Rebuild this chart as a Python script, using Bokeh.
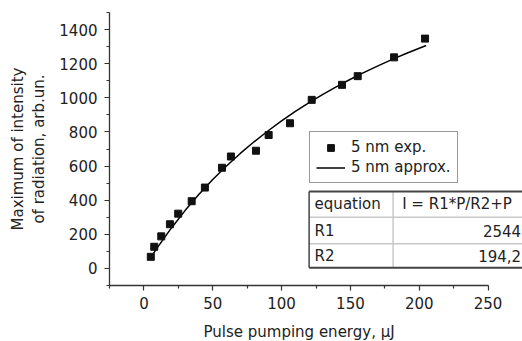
from bokeh.plotting import figure
from bokeh.models import (Range1d, FixedTicker, Legend, LegendItem, Title)
from bokeh.core.properties import value
from bokeh.embed import file_html
from bokeh.resources import INLINE

# ---- data ----
exp_energy = [5, 7.5, 12.6, 18.9, 24.9, 34.7, 44.3, 56.7, 63.2, 81.4,
              90.6, 106.1, 121.9, 143.9, 155.3, 181.7, 204.2]
exp_intensity = [68, 127, 188, 259, 321, 394, 474, 590, 656, 690,
                 782, 851, 988, 1076, 1127, 1237, 1347]

fit_energy = [7, 10, 20, 30, 40, 50, 60, 70, 80, 90, 100, 110, 120, 130,
              140, 150, 160, 170, 180, 190, 200, 205]
fit_intensity = [88.5, 124.6, 237.5, 340.4, 434.5, 520.9, 600.5, 674.0,
                 742.2, 805.6, 864.7, 919.9, 971.6, 1020.1, 1065.7, 1108.7,
                 1149.2, 1187.5, 1223.7, 1258.1, 1290.7, 1306.4]

x_ticks = [0, 50, 100, 150, 200, 250]
x_minor = [-25, 25, 75, 125, 175, 225]
y_ticks = [0, 200, 400, 600, 800, 1000, 1200, 1400]
y_minor = [-100, 100, 300, 500, 700, 900, 1100, 1300, 1500]

table_rows = ["equation", "R1", "R2"]
table_vals = ["I = R1*P/R2+P", "2544", "194,2"]

FONT = "DejaVu Sans"
TXT = "#222222"
AX = "#333333"

p = figure(width=522, height=341, output_backend="svg", toolbar_location=None,
           x_range=Range1d(-25, 275), y_range=Range1d(-100, 1500),
           min_border_left=109, min_border_right=0, min_border_top=12,
           min_border_bottom=56)
p.outline_line_color = None
p.xgrid.visible = False
p.ygrid.visible = False
p.background_fill_color = "white"
p.border_fill_color = "white"

for ax in (p.xaxis[0], p.yaxis[0]):
    ax.axis_line_color = AX
    ax.axis_line_width = 1.3
    ax.major_tick_line_color = AX
    ax.minor_tick_line_color = AX
    ax.major_tick_line_width = 1.2
    ax.minor_tick_line_width = 1.2
    ax.major_tick_out = 5
    ax.major_tick_in = 0
    ax.minor_tick_out = 3
    ax.minor_tick_in = 0
    ax.major_label_text_font = FONT
    ax.major_label_text_font_size = "15px"
    ax.major_label_text_color = TXT
    ax.axis_label_text_font = FONT
    ax.axis_label_text_font_size = "15px"
    ax.axis_label_text_font_style = "normal"
    ax.axis_label_text_color = TXT

p.xaxis.ticker = FixedTicker(ticks=x_ticks, minor_ticks=x_minor)
p.yaxis.ticker = FixedTicker(ticks=y_ticks, minor_ticks=y_minor)
p.xaxis.bounds = (-25, 250)
p.xaxis.major_label_standoff = 6
p.yaxis.major_label_standoff = 7

p.yaxis.axis_label = "Maximum of intensity\nof radiation, arb.un."
p.yaxis.axis_label_standoff = 8

# x axis title, centred on the bounded part of the axis
xtitle = Title(text="Pulse pumping energy, \u00b5J", align="left", offset=94,
               text_font=FONT, text_font_size="15px",
               text_font_style="normal", text_color=TXT, standoff=0,
               vertical_align="bottom",
               padding=dict(left=0, right=0, top=9, bottom=0))
p.add_layout(xtitle, "below")

# fit line and experimental points
fit = p.line(fit_energy, fit_intensity, line_color="black", line_width=1.5)
pts = p.scatter(exp_energy, exp_intensity, marker="square", size=7,
                fill_color="#111111", line_color="#111111")

legend = Legend(items=[LegendItem(label="5 nm exp.", renderers=[pts]),
                       LegendItem(label="5 nm approx.", renderers=[fit])],
                location=(200, 102))
legend.glyph_width = 29
legend.glyph_height = 17
legend.label_height = 17
legend.label_standoff = 6
legend.padding = 6
legend.spacing = 2
legend.margin = 0
legend.border_line_color = AX
legend.border_line_width = 1.2
legend.background_fill_color = "white"
legend.label_text_font = FONT
legend.label_text_font_size = "15px"
legend.label_text_color = TXT
p.add_layout(legend, "center")

# parameter table (data units of the plot)
t_left, t_mid, t_right = 120, 181, 276
t_lines = [451, 300, 144, 4]
p.quad(left=[t_left], right=[t_right], top=[t_lines[0]], bottom=[t_lines[-1]],
       fill_color="white", line_color=None)
p.segment(x0=[t_left, t_left], x1=[t_right, t_right],
          y0=[t_lines[1], t_lines[2]], y1=[t_lines[1], t_lines[2]],
          line_color="#c8c8c8", line_width=1.5)
p.segment(x0=[t_mid], x1=[t_mid], y0=[t_lines[0]], y1=[t_lines[-1]],
          line_color="#c8c8c8", line_width=1.5)
p.segment(x0=[t_left, t_left], x1=[t_right, t_right],
          y0=[t_lines[0], t_lines[-1]], y1=[t_lines[0], t_lines[-1]],
          line_color="#444444", line_width=2)
p.segment(x0=[t_left], x1=[t_left], y0=[t_lines[0]], y1=[t_lines[-1]],
          line_color="#444444", line_width=1.5)

row_y = [(t_lines[i] + t_lines[i + 1]) / 2 for i in range(3)]
p.text(x=[124] * 3, y=row_y, text=table_rows, text_font=value(FONT),
       text_font_size="15px", text_color=TXT, text_align="left",
       text_baseline="middle")
p.text(x=[187.6], y=[row_y[0]], text=[table_vals[0]], text_font=value(FONT),
       text_font_size="15px", text_color=TXT, text_align="left",
       text_baseline="middle")
p.text(x=[274, 274], y=row_y[1:], text=table_vals[1:], text_font=value(FONT),
       text_font_size="15px", text_color=TXT, text_align="right",
       text_baseline="middle")

open("out.html", "w").write(file_html(p, INLINE))
